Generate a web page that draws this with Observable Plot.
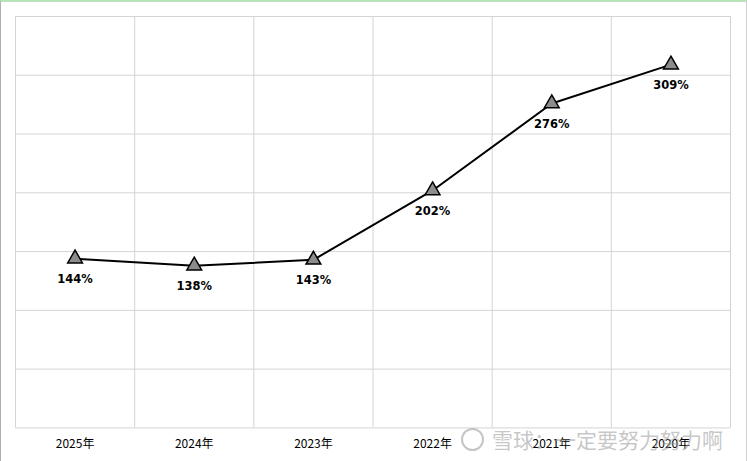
<!DOCTYPE html>
<html>
<head>
<meta charset="utf-8">
<script src="https://cdn.jsdelivr.net/npm/d3@7"></script>
<script src="https://cdn.jsdelivr.net/npm/@observablehq/plot@0.6"></script>
<style>
  html, body { margin: 0; padding: 0; background: #fff; }
  #wrap { position: relative; width: 747px; height: 461px; box-sizing: border-box;
          border-top: 2px solid #b9e2b9; border-left: 1px solid #b0b0b0; border-right: 1px solid #d0d0d0; overflow: hidden; }
  #chart { position: absolute; left: -1px; top: -2px; }
  #wm { position: absolute; left: 460px; top: 424px; font-family: "Noto Sans CJK SC", sans-serif;
        font-size: 21px; color: rgba(150,150,150,0.55); white-space: nowrap; line-height: 26px; }
  #wm .logo { display: inline-block; width: 19px; height: 19px; border: 2px solid rgba(150,150,150,0.55);
              border-radius: 50%; vertical-align: -3px; margin-right: 8px; }
</style>
</head>
<body>
<div id="wrap"><div id="chart"></div><div id="wm"><span class="logo"></span>雪球：一定要努力努力啊</div></div>
<script>
const years = ["2025年", "2024年", "2023年", "2022年", "2021年", "2020年"];
const values = [144, 138, 143, 202, 276, 309];
const yTicks = [0, 50, 100, 150, 200, 250, 300, 350];

const data = years.map((y, i) => ({i, year: y, value: values[i]}));
const bounds = d3.range(-0.5, years.length, 1);

const chart = Plot.plot({
  width: 747,
  height: 461,
  marginLeft: 15,
  marginRight: 16,
  marginTop: 16,
  marginBottom: 33,
  style: {fontFamily: "'Noto Sans CJK SC', sans-serif", fontSize: "12px", color: "#000", background: "#fff"},
  x: {domain: [-0.5, years.length - 0.5], axis: null},
  y: {domain: [0, 350], axis: null},
  marks: [
    Plot.ruleY(yTicks, {stroke: "#d4d4d4", strokeWidth: 1}),
    Plot.ruleX(bounds, {stroke: "#d4d4d4", strokeWidth: 1}),
    Plot.axisX({ticks: d3.range(years.length), tickFormat: i => years[i], tickSize: 0, tickPadding: 12,
                label: null, fontSize: 12, fill: "#000"}),
    Plot.line(data, {x: "i", y: "value", stroke: "#000", strokeWidth: 2}),
    Plot.dot(data, {x: "i", y: "value", symbol: "triangle", r: 5.5, fill: "#8c8c8c", stroke: "#000", strokeWidth: 1.5}),
    Plot.text(data, {x: "i", y: "value", text: d => d.value + "%", dy: 21, fontWeight: "bold",
                     fontSize: 11.5, fontFamily: "'DejaVu Sans', sans-serif", fill: "#000"})
  ]
});
document.getElementById("chart").appendChild(chart);
</script>
</body>
</html>
